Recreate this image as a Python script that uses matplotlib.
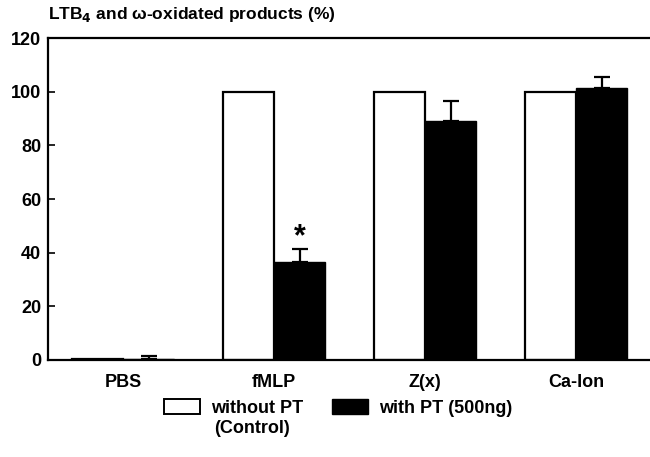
import numpy as np
import matplotlib
matplotlib.use('Agg')
import matplotlib.pyplot as plt
from matplotlib.patches import Patch

plt.rcParams['font.family'] = ['Liberation Sans', 'DejaVu Sans']
plt.rcParams['font.weight'] = 'bold'

# data
categories = ['PBS', 'fMLP', 'Z(x)', 'Ca-Ion']
without_pt = [0.5, 100, 100, 100]
with_pt = [0.5, 36.5, 89, 101.5]
with_pt_err = [0.8, 5.0, 7.5, 4.0]
significant = [False, True, False, False]

y_ticks = [0, 20, 40, 60, 80, 100, 120]

fig = plt.figure(figsize=(6.5, 4.57), dpi=100)
ax = fig.add_axes([0.0738, 0.2123, 0.9262, 0.7045])

x = np.arange(len(categories))
w = 0.338

ax.bar(x - w / 2, without_pt, width=w, color='white', edgecolor='black', linewidth=1.6, zorder=2)
ax.bar(x + w / 2, with_pt, width=w, color='black', edgecolor='black', linewidth=1.0, zorder=2)
ax.errorbar(x + w / 2, with_pt, yerr=[np.zeros(len(x)), with_pt_err], fmt='none',
            ecolor='black', elinewidth=1.6, capsize=6, capthick=1.6, zorder=3)

for i, sig in enumerate(significant):
    if sig:
        ax.text(x[i] + w / 2, with_pt[i] + with_pt_err[i] - 1.5, '*', ha='center', va='bottom',
                fontsize=22, fontweight='bold')

ax.set_xlim(-0.5, 3.49)
ax.set_ylim(0, 120)
ax.set_yticks(y_ticks)
ax.set_yticklabels([str(t) for t in y_ticks], fontsize=13, fontweight='bold')
ax.tick_params(axis='y', direction='in', length=5, width=1.2, pad=5)
ax.set_xticks(x)
ax.set_xticklabels(categories, fontsize=13, fontweight='bold')
ax.tick_params(axis='x', length=0, pad=10)
for s in ax.spines.values():
    s.set_linewidth(1.6)
ax.spines['right'].set_visible(False)

fig.text(0.0738, 0.948, 'LTB$_\\mathbf{4}$ and ω-oxidated products (%)', fontsize=12.5,
         fontweight='bold', ha='left', va='bottom')

handles = [Patch(facecolor='white', edgecolor='black', linewidth=1.4),
           Patch(facecolor='black', edgecolor='black')]
fig.legend(handles, ['without PT', 'with PT (500ng)'], loc='center', ncol=2,
           bbox_to_anchor=(0.52, 0.108), frameon=False, fontsize=13,
           handlelength=2.0, handleheight=0.9, columnspacing=1.6, handletextpad=0.6)
fig.text(0.330, 0.062, '(Control)', fontsize=13, fontweight='bold', ha='left', va='center')

fig.savefig('out.png', dpi=100)
